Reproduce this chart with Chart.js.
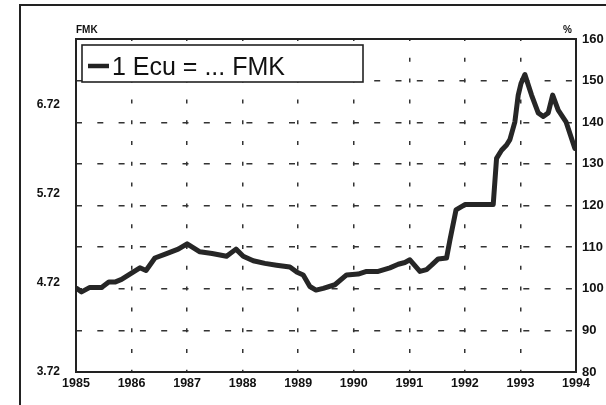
<!DOCTYPE html>
<html>
<head>
<meta charset="utf-8">
<title>1 Ecu = ... FMK</title>
<script src="https://cdn.jsdelivr.net/npm/chart.js@4.4.1/dist/chart.umd.min.js"></script>
<style>
    html, body { margin: 0; padding: 0; background: #fff; }
    #wrap { position: relative; width: 606px; height: 405px; overflow: hidden; }
    #frame { position: absolute; left: 19px; top: 4px; width: 620px; height: 420px;
             border-left: 2px solid #222; border-top: 2px solid #222; }
    #ecuChart { position: absolute; left: 0; top: 0; }
</style>
</head>
<body>
<div id="wrap">
    <div id="frame"></div>
    <canvas id="ecuChart" width="606" height="405"></canvas>
</div>
<script>
// Data (tahun desimal, FMK per Ecu)
const years = [
    1985.01, 1985.10, 1985.25, 1985.46, 1985.59, 1985.70, 1985.82, 1985.97,
    1986.15, 1986.26, 1986.42, 1986.63, 1986.84, 1987.00, 1987.23, 1987.45,
    1987.71, 1987.88, 1988.01, 1988.19, 1988.40, 1988.61, 1988.85, 1988.98,
    1989.09, 1989.21, 1989.32, 1989.45, 1989.66, 1989.87, 1990.08, 1990.23,
    1990.44, 1990.65, 1990.80, 1990.92, 1991.01, 1991.19, 1991.31, 1991.40,
    1991.52, 1991.67, 1991.73, 1991.84, 1992.00, 1992.21, 1992.51, 1992.57,
    1992.66, 1992.75, 1992.81, 1992.90, 1992.96, 1993.01, 1993.08, 1993.20,
    1993.32, 1993.41, 1993.50, 1993.58, 1993.68, 1993.82, 1993.98
];
const fmkValues = [
    4.66, 4.62, 4.67, 4.67, 4.73, 4.73, 4.76, 4.82,
    4.89, 4.86, 5.00, 5.05, 5.10, 5.16, 5.07, 5.05,
    5.02, 5.10, 5.02, 4.97, 4.94, 4.92, 4.90, 4.84,
    4.81, 4.68, 4.64, 4.66, 4.70, 4.81, 4.82, 4.85,
    4.85, 4.89, 4.93, 4.95, 4.98, 4.85, 4.87, 4.92,
    4.99, 5.00, 5.20, 5.54, 5.60, 5.60, 5.60, 6.12,
    6.21, 6.27, 6.33, 6.53, 6.83, 6.96, 7.06, 6.83,
    6.63, 6.59, 6.63, 6.83, 6.66, 6.53, 6.23
];
const yearTicks = [1985, 1986, 1987, 1988, 1989, 1990, 1991, 1992, 1993, 1994];
const fmkTicks = [3.72, 4.72, 5.72, 6.72];
const pctTicks = [80, 90, 100, 110, 120, 130, 140, 150, 160];
const seriesLabel = '1 Ecu = ... FMK';

const ink = '#222';
const labelFont = 'Liberation Sans, Arial, sans-serif';

// Plugin: bingkai plot, legenda di dalam plot, judul sumbu
const framePlugin = {
    id: 'framePlugin',
    afterDraw(chart) {
        const ctx = chart.ctx;
        const a = chart.chartArea;
        ctx.save();

        // kotak legenda
        const lx = a.left + 6, ly = a.top + 6, lw = 281, lh = 37;
        ctx.fillStyle = '#fff';
        ctx.fillRect(lx, ly, lw, lh);
        ctx.strokeStyle = ink;
        ctx.lineWidth = 1.6;
        ctx.strokeRect(lx, ly, lw, lh);
        ctx.lineWidth = 4.5;
        ctx.beginPath();
        ctx.moveTo(lx + 6, ly + 21);
        ctx.lineTo(lx + 27, ly + 21);
        ctx.stroke();
        ctx.fillStyle = '#111';
        ctx.font = '25px ' + labelFont;
        ctx.textBaseline = 'alphabetic';
        ctx.textAlign = 'left';
        ctx.fillText(seriesLabel, lx + 30, ly + 30);

        // bingkai area plot
        ctx.lineWidth = 2;
        ctx.strokeRect(a.left, a.top, a.right - a.left, a.bottom - a.top);

        // judul sumbu
        ctx.font = 'bold 10px ' + labelFont;
        ctx.fillText('FMK', a.left, a.top - 6);
        ctx.textAlign = 'right';
        ctx.fillText('%', a.right - 4, a.top - 6);
        ctx.restore();
    }
};

const ctx = document.getElementById('ecuChart');
new Chart(ctx, {
    type: 'line',
    data: {
        datasets: [{
            label: seriesLabel,
            data: years.map((x, i) => ({ x: x, y: fmkValues[i] })),
            xAxisID: 'x',
            yAxisID: 'yFmk',
            borderColor: '#262626',
            borderWidth: 5,
            pointRadius: 0,
            tension: 0,
            borderCapStyle: 'round',
            borderJoinStyle: 'round'
        }]
    },
    options: {
        responsive: false,
        animation: false,
        devicePixelRatio: 1,
        layout: { padding: { top: 39, left: 0, right: 0, bottom: 0 } },
        plugins: {
            legend: { display: false },
            tooltip: { enabled: false }
        },
        scales: {
            x: {
                type: 'linear',
                position: 'bottom',
                min: 1985,
                max: 1994,
                afterBuildTicks: s => { s.ticks = yearTicks.map(v => ({ value: v })); },
                afterFit: s => { s.height = 33; },
                ticks: {
                    autoSkip: false,
                    maxRotation: 0,
                    padding: 4,
                    color: '#111',
                    font: { family: labelFont, size: 12.5, weight: 'bold' },
                    callback: v => String(v)
                },
                grid: { color: '#333', lineWidth: 1.5, drawTicks: false },
                border: { display: false, dash: [4, 16.8], dashOffset: 2 }
            },
            yFmk: {
                type: 'linear',
                position: 'left',
                min: 3.72,
                max: 7.46,
                afterBuildTicks: s => { s.ticks = fmkTicks.map(v => ({ value: v })); },
                afterFit: s => { s.width = 76; },
                ticks: {
                    padding: 8,
                    color: '#111',
                    font: { family: labelFont, size: 12, weight: 'bold' },
                    callback: v => v.toFixed(2)
                },
                grid: { display: false },
                border: { display: false }
            },
            yPct: {
                type: 'linear',
                position: 'right',
                display: true,
                min: 80,
                max: 160,
                afterBuildTicks: s => { s.ticks = pctTicks.map(v => ({ value: v })); },
                afterFit: s => { s.width = 30; },
                ticks: {
                    padding: 6,
                    color: '#111',
                    font: { family: labelFont, size: 13, weight: 'bold' },
                    callback: v => String(v)
                },
                grid: { color: '#333', lineWidth: 1.5, drawTicks: false },
                border: { display: false, dash: [6, 15.3], dashOffset: 0 }
            }
        }
    },
    plugins: [framePlugin]
});
</script>
</body>
</html>
